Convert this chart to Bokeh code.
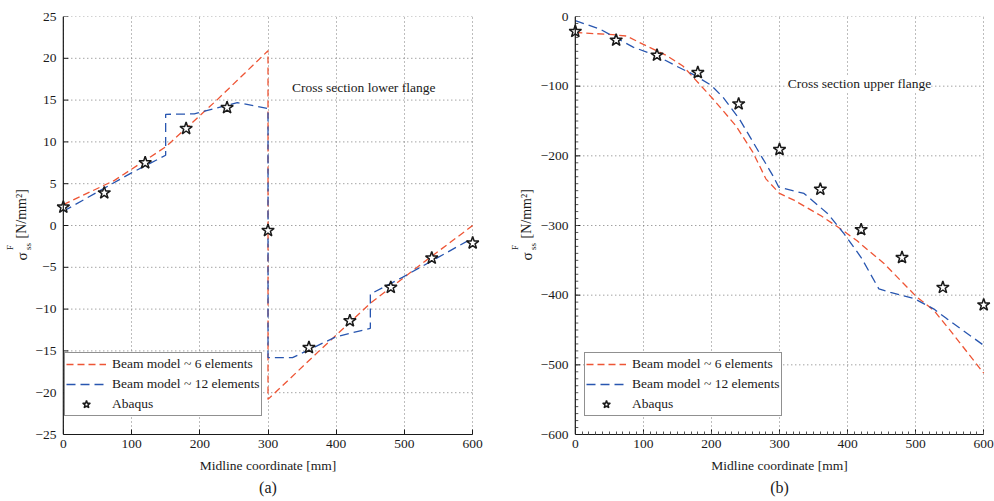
import math
from bokeh.plotting import figure
from bokeh.layouts import row
from bokeh.models import Range1d, FixedTicker, Label, LinearAxis, Span
from bokeh.core.properties import value
from bokeh.embed import file_html
from bokeh.resources import INLINE

# ---------------- data ----------------
x_abaqus = [0, 60, 120, 180, 240, 300, 360, 420, 480, 540, 600]

# (a) lower flange
a_abaqus = [2.2, 3.9, 7.5, 11.6, 14.1, -0.6, -14.6, -11.4, -7.4, -3.9, -2.1]
a_x6 = [0, 75, 150, 225, 300, 300, 375, 450, 525, 600]
a_y6 = [2.5, 5.4, 9.4, 15.0, 20.9, -20.8, -15.0, -9.3, -4.6, 0.0]
a_x12 = [0, 50, 100, 150, 150, 192, 255, 300, 300, 336, 400, 450, 450, 497, 541, 600]
a_y12 = [1.7, 4.0, 6.3, 8.4, 13.3, 13.35, 14.7, 14.0, -15.8, -15.8, -13.3, -12.3, -8.2, -6.2, -4.2, -1.5]

# (b) upper flange
b_abaqus = [-21.5, -34, -55.5, -80.5, -125.5, -191, -248, -306, -346, -389, -414]
b_x6 = [0, 55, 75, 100, 134, 158, 173, 202, 236, 261, 280, 300, 322, 361, 390, 414, 454, 488, 502, 527, 551, 600]
b_y6 = [-23, -26, -28, -40, -56, -71, -87, -118, -157, -195, -233, -254, -264, -286, -305, -322, -355, -389, -403, -422, -451, -512]
b_x12 = [0, 36, 85, 119, 148, 173, 200, 217, 241, 270, 290, 299, 336, 371, 395, 420, 446, 463, 498, 527, 546, 600]
b_y12 = [-6, -18, -44, -56, -71, -83, -99, -116, -147, -195, -228, -245, -254, -283, -312, -346, -391, -396, -405, -420, -434, -472]

x_ticks = [0, 100, 200, 300, 400, 500, 600]
x_tick_labels = ["0", "100", "200", "300", "400", "500", "600"]
a_y_ticks = [-25, -20, -15, -10, -5, 0, 5, 10, 15, 20, 25]
a_y_tick_labels = ["\u221225", "\u221220", "\u221215", "\u221210", "\u22125", "0", "5", "10", "15", "20", "25"]
b_y_ticks = [-600, -500, -400, -300, -200, -100, 0]
b_y_tick_labels = ["\u2212600", "\u2212500", "\u2212400", "\u2212300", "\u2212200", "\u2212100", "0"]

legend_labels = ["Beam model ~ 6 elements", "Beam model ~ 12 elements", "Abaqus"]
titles = ["Cross section lower flange", "Cross section upper flange"]
x_label = "Midline coordinate [mm]"
y_label_parts = ["\u03c3", "F", "ss", "[N/mm\u00b2]"]
captions = ["(a)", "(b)"]

FONT = "Liberation Serif"
RED = "#EE5535"
BLUE = "#2856B0"
INK = "#1a1a1a"
GRID = "#7a7a7a"
H = 501
TOP, BOTTOM = 16, 67
XMIN, XMAX = 0, 600
PAD = 10          # extra x-range so edge stars are not cut
PX_PER_UNIT = 423 / (XMAX - XMIN + 2 * PAD)


def make_fig(width, border_left, border_right, yr, y_ticks, y_tick_labels, minor, caption):
    p = figure(width=width, height=H, output_backend="svg", toolbar_location=None,
               x_range=Range1d(XMIN - PAD, XMAX + PAD), y_range=Range1d(*yr),
               min_border_left=border_left, min_border_right=border_right,
               min_border_top=TOP, min_border_bottom=BOTTOM)
    p.outline_line_color = None
    p.background_fill_color = "white"
    p.border_fill_color = "white"

    # horizontal dotted grid, only between x=0 and x=600
    p.segment(x0=[XMIN] * len(y_ticks), x1=[XMAX] * len(y_ticks), y0=y_ticks, y1=y_ticks,
              line_color=GRID, line_dash="1 3", line_width=1)
    p.ygrid.visible = False
    p.xgrid.ticker = FixedTicker(ticks=x_ticks)
    p.xgrid.grid_line_color = GRID
    p.xgrid.grid_line_dash = "1 3"

    # bottom axis
    xt = FixedTicker(ticks=x_ticks, minor_ticks=(list(range(XMIN, XMAX + 1, 10)) if minor else []))
    p.xaxis.ticker = xt
    p.xaxis.bounds = (XMIN, XMAX)
    p.xaxis.major_label_overrides = dict(zip(x_ticks, x_tick_labels))
    p.xaxis.axis_line_color = INK
    p.xaxis.axis_line_width = 1.2
    p.xaxis.major_tick_in = 5
    p.xaxis.major_tick_out = 0
    p.xaxis.major_tick_line_color = INK
    p.xaxis.minor_tick_in = 3
    p.xaxis.minor_tick_out = 0
    p.xaxis.minor_tick_line_color = "#555555" if minor else None
    p.xaxis.axis_label = x_label
    p.xaxis.axis_label_text_font = FONT
    p.xaxis.axis_label_text_font_size = "13.5px"
    p.xaxis.axis_label_text_font_style = "normal"
    p.xaxis.axis_label_text_color = INK
    p.xaxis.axis_label_standoff = 7

    # left axis: labels from bokeh, line and ticks drawn at x = 0
    p.yaxis.ticker = FixedTicker(ticks=y_ticks)
    p.yaxis.major_label_overrides = dict(zip(y_ticks, y_tick_labels))
    p.yaxis.axis_line_color = None
    p.yaxis.major_tick_line_color = None
    p.yaxis.minor_tick_line_color = None
    p.yaxis.major_tick_in = 0
    p.yaxis.major_tick_out = 0
    p.yaxis.minor_tick_in = 0
    p.yaxis.minor_tick_out = 0
    p.yaxis.major_label_standoff = 0
    for ax in (p.xaxis, p.yaxis):
        ax.major_label_text_font = FONT
        ax.major_label_text_font_size = "13.5px"
        ax.major_label_text_color = INK
    p.xaxis.major_label_standoff = 5
    p.add_layout(Span(location=XMIN, dimension="height", line_color=INK, line_width=1.2))
    maj = 5 / PX_PER_UNIT
    p.segment(x0=[XMIN] * len(y_ticks), x1=[XMIN + maj] * len(y_ticks), y0=y_ticks, y1=y_ticks,
              line_color=INK, line_width=1)
    if minor:
        mt = list(range(int(yr[0]), int(yr[1]) + 1, 10))
        mn = 3 / PX_PER_UNIT
        p.segment(x0=[XMIN] * len(mt), x1=[XMIN + mn] * len(mt), y0=mt, y1=mt,
                  line_color="#555555", line_width=1)

    cap = LinearAxis(ticker=FixedTicker(ticks=[]), axis_label=caption,
                     axis_line_color=None, major_tick_line_color=None,
                     minor_tick_line_color=None, major_label_text_font_size="0px",
                     axis_label_text_font=FONT, axis_label_text_font_size="16px",
                     axis_label_text_font_style="normal", axis_label_text_color=INK,
                     axis_label_standoff=3, major_label_standoff=0)
    p.add_layout(cap, "below")
    return p


def add_series(p, x6, y6, x12, y12, yab):
    p.line(x6, y6, line_color=RED, line_width=1.3, line_dash="7 4", legend_label=legend_labels[0])
    p.line(x12, y12, line_color=BLUE, line_width=1.3, line_dash="9 5", legend_label=legend_labels[1])
    p.scatter(x_abaqus, yab, marker="star", size=13, line_color=INK, line_width=1.5,
              fill_color="white", legend_label=legend_labels[2])


def style_legend(p, loc):
    lg = p.legend[0]
    lg.location = loc
    lg.border_line_color = "#222222"
    lg.border_line_width = 1.6
    lg.background_fill_color = "white"
    lg.background_fill_alpha = 1.0
    lg.label_text_font = FONT
    lg.label_text_font_size = "13.5px"
    lg.label_text_color = INK
    lg.glyph_width = 40
    lg.glyph_height = 20
    lg.label_height = 20
    lg.spacing = -1
    lg.padding = 1
    lg.margin = 0
    lg.label_standoff = 6


def ylabel_fig(width, base_x):
    f = figure(width=width, height=H, output_backend="svg", toolbar_location=None,
               x_range=Range1d(0, width), y_range=Range1d(BOTTOM, H - TOP),
               x_axis_location=None, y_axis_location=None,
               min_border_left=0, min_border_right=0, min_border_top=TOP, min_border_bottom=BOTTOM)
    f.outline_line_color = None
    f.grid.visible = False
    f.background_fill_color = "white"
    f.border_fill_color = "white"
    common = dict(angle=math.pi / 2, text_font=value(FONT), text_color=INK,
                  text_baseline="alphabetic", text_align="left")
    f.text(x=[base_x], y=[H - 260], text=[y_label_parts[0]], text_font_size="15px", **common)
    f.text(x=[base_x - 11.5, base_x + 6.5], y=[H - 249.5, H - 249.5],
           text=[y_label_parts[1], y_label_parts[2]], text_font_size="9px", **common)
    f.text(x=[base_x], y=[H - 238], text=[y_label_parts[3]], text_font_size="14px", **common)
    return f


# (a)
lab1 = ylabel_fig(32, 21)
p1 = make_fig(468, 23, 21, (-25, 25), a_y_ticks, a_y_tick_labels, False, captions[0])
add_series(p1, a_x6, a_y6, a_x12, a_y12, a_abaqus)
style_legend(p1, (8, 18))
p1.add_layout(Label(x=335, y=16.5, text=titles[0], text_font=FONT, text_font_size="13.5px",
                    text_color=INK, text_baseline="middle", text_align="left"))

# (b)
lab2 = ylabel_fig(37, 26)
p2 = make_fig(457, 30, 4, (-600, 0), b_y_ticks, b_y_tick_labels, True, captions[1])
add_series(p2, b_x6, b_y6, b_x12, b_y12, b_abaqus)
style_legend(p2, (16, 18))
p2.add_layout(Label(x=312, y=-96, text=titles[1], text_font=FONT, text_font_size="13.5px",
                    text_color=INK, text_baseline="middle", text_align="left",
                    background_fill_color="white"))

layout = row(lab1, p1, lab2, p2)
open("out.html", "w").write(file_html(layout, INLINE))
